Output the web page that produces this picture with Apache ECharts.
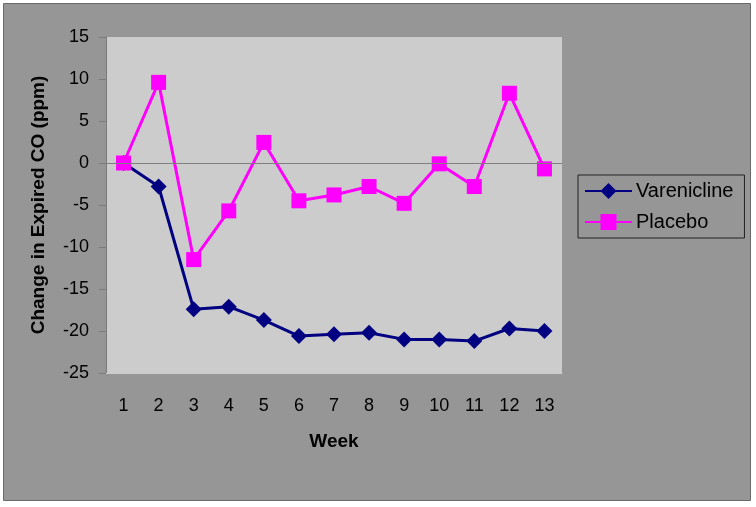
<!DOCTYPE html>
<html>
<head>
<meta charset="utf-8">
<script src="https://cdn.jsdelivr.net/npm/echarts@6/dist/echarts.min.js"></script>
<style>
html,body{margin:0;padding:0;background:#ffffff;}
#chart{width:756px;height:507px;}
</style>
</head>
<body>
<div id="chart"></div>
<script>
const weeks = ['1','2','3','4','5','6','7','8','9','10','11','12','13'];
const varenicline = [0, -2.8, -17.4, -17.1, -18.7, -20.6, -20.4, -20.2, -21.0, -21.0, -21.2, -19.7, -20.0];
const placebo = [0, 9.6, -11.5, -5.7, 2.45, -4.5, -3.8, -2.8, -4.8, -0.1, -2.8, 8.3, -0.7];
const yTicks = {min: -25, max: 15, interval: 5};

const chart = echarts.init(document.getElementById('chart'));
const font = 'Liberation Sans, Arial, sans-serif';
chart.setOption({
  animation: false,
  backgroundColor: '#ffffff',
  graphic: [{
    type: 'rect', z: -10,
    shape: {x: 3.5, y: 3.5, width: 747, height: 497},
    style: {fill: '#969696', stroke: '#6a6a6a', lineWidth: 1}
  }],
  grid: {left: 106, top: 37, width: 456, height: 336, show: true, backgroundColor: '#cccccc', borderWidth: 0},
  legend: {
    orient: 'vertical', left: 578, top: 175,
    padding: [6, 11, 6, 6], itemGap: 11, itemWidth: 47, itemHeight: 20,
    backgroundColor: '#969696', borderColor: '#222222', borderWidth: 1,
    textStyle: {fontFamily: font, fontSize: 20, color: '#000000', padding: [0, 0, 0, -1]},
    data: ['Varenicline', 'Placebo']
  },
  xAxis: {
    type: 'category', data: weeks, boundaryGap: true,
    name: 'Week', nameLocation: 'middle', nameGap: 59,
    nameTextStyle: {fontFamily: font, fontSize: 19, fontWeight: 'bold', color: '#000'},
    axisLine: {onZero: false, lineStyle: {color: '#cccccc'}},
    axisTick: {show: false},
    axisLabel: {fontFamily: font, fontSize: 18, color: '#000', margin: 24}
  },
  yAxis: {
    type: 'value', min: yTicks.min, max: yTicks.max, interval: yTicks.interval,
    name: 'Change in Expired CO (ppm)', nameLocation: 'middle', nameGap: 58,
    nameTextStyle: {fontFamily: font, fontSize: 19, fontWeight: 'bold', color: '#000'},
    axisLine: {show: true, lineStyle: {color: '#7a7a7a', width: 1}},
    axisTick: {show: true, length: 7, lineStyle: {color: '#7a7a7a'}},
    splitLine: {show: false},
    axisLabel: {fontFamily: font, fontSize: 18, color: '#000', margin: 17}
  },
  series: [
    {
      name: 'Varenicline', type: 'line', data: varenicline,
      symbol: 'diamond', symbolSize: 16,
      itemStyle: {color: '#000080'}, lineStyle: {color: '#000080', width: 3}, z: 3,
      markLine: {
        silent: true, symbol: 'none', label: {show: false},
        lineStyle: {color: '#808080', width: 1, type: 'solid'},
        data: [{yAxis: 0}]
      }
    },
    {
      name: 'Placebo', type: 'line', data: placebo,
      symbol: 'rect', symbolSize: 15,
      itemStyle: {color: '#ff00ff'}, lineStyle: {color: '#ff00ff', width: 3}, z: 4
    }
  ]
});
</script>
</body>
</html>
